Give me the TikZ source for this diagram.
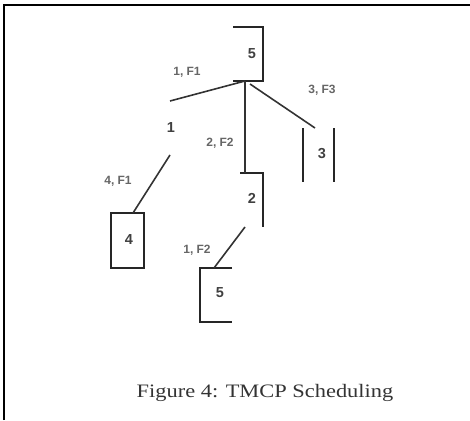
\documentclass[tikz,border=0pt]{standalone}
\usepackage{fontspec}
\setmainfont{Liberation Serif}
\newfontfamily\labfont{Liberation Sans}
\begin{document}
\begin{tikzpicture}[x=1pt,y=-1pt,
  shapeline/.style={line width=1.6pt,draw=black!85},
  edgeline/.style={line width=1.6pt,draw=black!80},
  numtext/.style={font=\labfont\fontsize{14.5}{15}\selectfont\bfseries,text=black!75,inner sep=0pt},
  edgelabel/.style={font=\labfont\fontsize{12}{12}\selectfont\bfseries,text=black!60,inner sep=0pt},
  captext/.style={font=\fontsize{19}{20}\selectfont,text=black!80,inner sep=0pt}]
\useasboundingbox (0,0) rectangle (470,420);
% frame
\draw[line width=1.6pt] (4,420) -- (4,5) -- (470,5);
% nodes (texts)
\node[numtext] (n5a) at (252,54) {5};
\node[numtext] (n1) at (171,128) {1};
\node[numtext] (n4) at (129,240) {4};
\node[numtext] (n2) at (252,198) {2};
\node[numtext] (n5b) at (220,293) {5};
\node[numtext] (n3) at (322,154) {3};
% node outlines
\draw[shapeline] (233,27) -- (263,27) -- (263,81) -- (233,81);
\draw[shapeline] (111,213) rectangle (144,268);
\draw[shapeline] (240,173) -- (263,173) -- (263,227);
\draw[shapeline] (232,268) -- (200,268) -- (200,322) -- (232,322);
\draw[shapeline] (303,128) -- (303,182);
\draw[shapeline] (334,128) -- (334,182);
% connector end points
\coordinate (j) at (245,81);
\coordinate (jr) at (250,84);
\coordinate (in1) at (170,101);
\coordinate (out1) at (170,155);
\coordinate (in4) at (133,213);
\coordinate (in2) at (245,173);
\coordinate (out2) at (245,227);
\coordinate (in5b) at (214,268);
\coordinate (in3) at (315,128);
% connectors
\draw[edgeline] (j) -- (in1);
\draw[edgeline] (out1) -- (in4);
\draw[edgeline] (j) -- (in2);
\draw[edgeline] (out2) -- (in5b);
\draw[edgeline] (jr) -- (in3);
% edge labels
\node[edgelabel] (l11) at (187,72) {1, F1};
\node[edgelabel] (l41) at (118,181) {4, F1};
\node[edgelabel] (l22) at (220,143) {2, F2};
\node[edgelabel] (l12) at (197,250) {1, F2};
\node[edgelabel] (l33) at (322,90) {3, F3};
% caption
\node[captext] (cap) at (265,393) {\scalebox{1.18}[1]{Figure 4: TMCP Scheduling}};
\end{tikzpicture}
\end{document}
